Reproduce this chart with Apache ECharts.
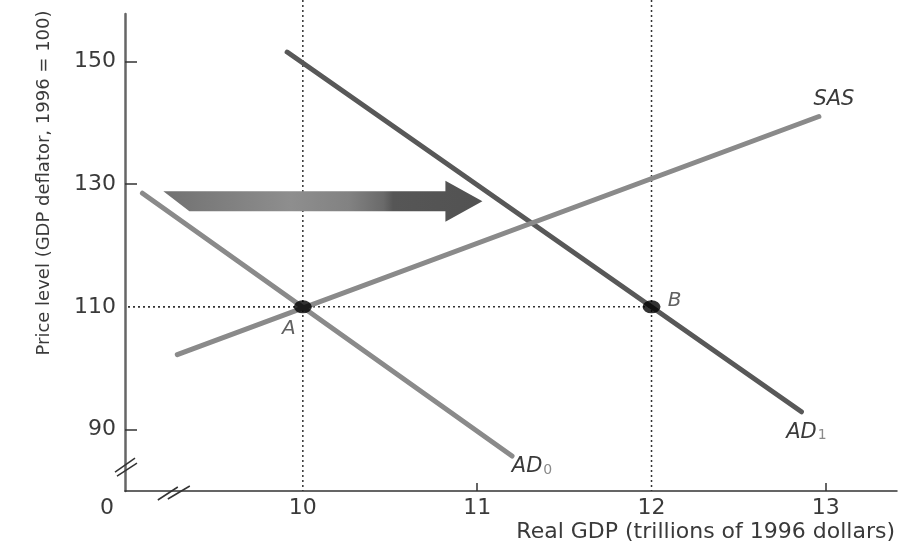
<!DOCTYPE html>
<html>
<head>
<meta charset="utf-8">
<script src="https://cdn.jsdelivr.net/npm/echarts@6/dist/echarts.min.js"></script>
<style>
  html, body { margin: 0; padding: 0; background: #fff; }
  #chart { width: 910px; height: 547px; }
</style>
</head>
<body>
<div id="chart"></div>
<script>
// Axis extents and tick values
const xMin = 8.98, xMax = 13.408;
const yMin = 80, yMax = 157.7;
const xTickLabels = [10, 11, 12, 13];
const yTickLabels = [90, 110, 130, 150];
const xTickMarks = [11, 13];
const yTickMarks = [90, 130, 150];

// Curves as [real GDP, price level] end points
const ad0 = [[9.08, 128.5], [11.2, 85.7]];
const ad1 = [[9.91, 151.5], [12.86, 92.9]];
const sas = [[9.28, 102.2], [12.96, 141.0]];

// Equilibrium points
const eqNames = ['A', 'B'];
const eqPoints = [[10, 110], [12, 110]];

// Demand shift arrow: [from GDP, to GDP, price level]
const shiftArrow = [9.2, 11.03, 127.2];

// Where the axis break marks sit
const xBreakAt = 9.26;
const yBreakAt = 83.9;
const guideTop = 160;

const FONT = 'DejaVu Sans';
const TEXT = '#3a3a3a';

const chart = echarts.init(document.getElementById('chart'), null, { renderer: 'canvas' });

function curveData(points, label) {
  return points.map((p, i) => i === points.length - 1
    ? { value: p, label: Object.assign({ show: true, position: 'inside' }, label) }
    : { value: p });
}

function curve(name, points, color, label) {
  return {
    type: 'line',
    name,
    data: curveData(points, label),
    symbol: 'circle',
    symbolSize: 0,
    showSymbol: true,
    lineStyle: { color, width: 5, cap: 'round' },
    itemStyle: { color },
    emphasis: { disabled: true },
    z: 3
  };
}

const adRich = (sub) => ({
  formatter: '{m|AD}{s|' + sub + '}',
  rich: {
    m: { fontFamily: FONT, fontStyle: 'italic', fontSize: 21, color: TEXT, lineHeight: 22, verticalAlign: 'bottom' },
    s: { fontFamily: FONT, fontSize: 14, color: '#8a8a8a', lineHeight: 14, verticalAlign: 'bottom', padding: [0, 0, 0, 1] }
  }
});

const eqLabelOffsets = [[-14, 22], [23, -6]];

const option = {
  animation: false,
  grid: { left: 125, right: 13, top: 14, bottom: 56, containLabel: false, outerBoundsMode: 'none' },
  xAxis: {
    type: 'value',
    min: xMin,
    max: xMax,
    name: 'Real GDP (trillions of 1996 dollars)',
    nameLocation: 'end',
    nameGap: 0,
    nameTextStyle: {
      fontFamily: FONT, fontSize: 22, color: TEXT,
      align: 'right', verticalAlign: 'top', padding: [30, 2, 0, 0]
    },
    axisLine: { show: true, lineStyle: { color: '#333', width: 1.5 } },
    axisTick: { show: true, inside: true, length: 8, customValues: xTickMarks, lineStyle: { color: '#333', width: 1.5 } },
    axisLabel: {
      customValues: [xMin].concat(xTickLabels),
      margin: 6,
      fontFamily: FONT, fontSize: 22, color: TEXT,
      formatter: (v) => Math.abs(v - xMin) < 1e-6 ? '{o|0}' : String(Math.round(v)),
      rich: { o: { fontFamily: FONT, fontSize: 22, color: TEXT, padding: [0, 36, 0, 0] } }
    },
    splitLine: { show: false }
  },
  yAxis: {
    type: 'value',
    min: yMin,
    max: yMax,
    axisLine: { show: true, lineStyle: { color: '#666', width: 2.5 } },
    axisTick: { show: true, inside: true, length: 12, customValues: yTickMarks, lineStyle: { color: '#333', width: 1.5 } },
    axisLabel: {
      customValues: yTickLabels,
      margin: 9,
      fontFamily: FONT, fontSize: 22, color: TEXT
    },
    splitLine: { show: false }
  },
  graphic: [{
    type: 'text',
    x: 44,
    y: 183,
    rotation: Math.PI / 2,
    style: {
      text: 'Price level (GDP deflator, 1996 = 100)',
      fontFamily: FONT, fontSize: 18, fill: TEXT,
      align: 'center', verticalAlign: 'middle'
    }
  }],
  series: [
    {
      // dotted guides from each equilibrium to the axes
      type: 'custom',
      name: 'guides',
      data: eqPoints,
      encode: { x: 0, y: 1 },
      z: 1,
      silent: true,
      renderItem(params, api) {
        const x = api.value(0), y = api.value(1);
        const p = api.coord([x, y]);
        const top = api.coord([x, guideTop]);
        const bot = api.coord([x, yMin]);
        const left = api.coord([xMin, y]);
        const style = { stroke: '#333', lineWidth: 1.5, lineDash: [2, 3], fill: null };
        return {
          type: 'group',
          children: [
            { type: 'line', shape: { x1: top[0], y1: top[1], x2: bot[0], y2: bot[1] }, style },
            { type: 'line', shape: { x1: left[0] + 3, y1: left[1], x2: p[0], y2: p[1] }, style }
          ]
        };
      }
    },
    {
      // rightward shift of aggregate demand
      type: 'custom',
      name: 'shift',
      data: [shiftArrow],
      encode: { x: [0, 1], y: 2 },
      z: 2,
      silent: true,
      renderItem(params, api) {
        const a = api.coord([api.value(0), api.value(2)]);
        const b = api.coord([api.value(1), api.value(2)]);
        const cy = a[1];
        const bodyH = 10, headH = 20.5, headL = 37, slant = 26;
        const hx = b[0] - headL;
        return {
          type: 'polygon',
          shape: {
            points: [
              [a[0], cy - bodyH], [hx, cy - bodyH], [hx, cy - headH], [b[0], cy],
              [hx, cy + headH], [hx, cy + bodyH], [a[0] + slant, cy + bodyH]
            ]
          },
          style: {
            fill: new echarts.graphic.LinearGradient(0, 0, 1, 0, [
              { offset: 0, color: '#717171' },
              { offset: 0.15, color: '#7c7c7c' },
              { offset: 0.4, color: '#8e8e8e' },
              { offset: 0.58, color: '#828282' },
              { offset: 0.69, color: '#6a6a6a' },
              { offset: 0.72, color: '#565656' },
              { offset: 1, color: '#525252' }
            ])
          }
        };
      }
    },
    curve('AD0', ad0, '#8a8a8a', Object.assign({ offset: [20, 10] }, adRich('0'))),
    curve('AD1', ad1, '#585858', Object.assign({ offset: [5, 20] }, adRich('1'))),
    curve('SAS', sas, '#8a8a8a', {
      formatter: 'SAS', offset: [15, -17],
      fontFamily: FONT, fontStyle: 'italic', fontSize: 21, color: TEXT
    }),
    {
      type: 'scatter',
      name: 'equilibrium',
      data: eqPoints.map((p, i) => ({
        value: p,
        name: eqNames[i],
        label: { offset: eqLabelOffsets[i] }
      })),
      symbol: 'circle',
      symbolSize: [18, 13],
      itemStyle: { color: '#000' },
      label: {
        show: true,
        position: 'inside',
        formatter: (p) => p.name,
        fontFamily: FONT, fontStyle: 'italic', fontSize: 20, color: TEXT
      },
      emphasis: { disabled: true },
      z: 4
    },
    {
      // axis break marks
      type: 'custom',
      name: 'breaks',
      data: [[xBreakAt, yMin, 0], [xMin, yBreakAt, 1]],
      encode: { x: 0, y: 1 },
      z: 5,
      silent: true,
      renderItem(params, api) {
        const c = api.coord([api.value(0), api.value(1)]);
        const segs = api.value(2) === 0
          ? [[-16, 9, 4, -4], [-6, 8, 16, -5]]
          : [[-10, 5, 10, -9], [-8, 9, 12, -4]];
        return {
          type: 'group',
          children: segs.map(s => ({
            type: 'line',
            shape: { x1: c[0] + s[0], y1: c[1] + s[1], x2: c[0] + s[2], y2: c[1] + s[3] },
            style: { stroke: '#333', lineWidth: 1.5 }
          }))
        };
      }
    }
  ]
};

chart.setOption(option);
</script>
</body>
</html>
